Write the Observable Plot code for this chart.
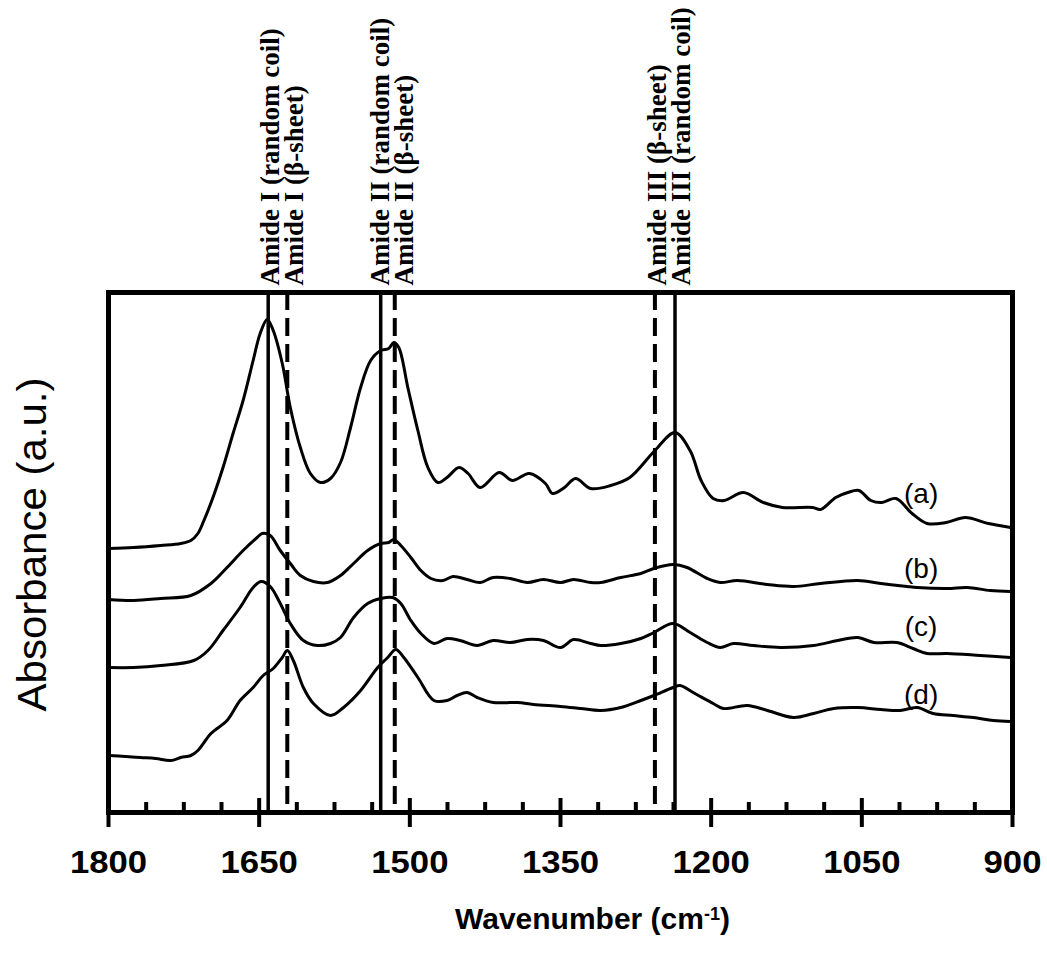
<!DOCTYPE html>
<html><head><meta charset="utf-8">
<script src="https://cdn.jsdelivr.net/npm/d3@7"></script>
<script src="https://cdn.jsdelivr.net/npm/@observablehq/plot@0.6"></script>
<style>body{margin:0;background:#fff;} #chart svg{display:block;}</style>
</head><body><div id="chart"></div>
<script>
// ---- data ----
const seriesNames = ["(a)", "(b)", "(c)", "(d)"];

const waveA = [1800,1775,1748,1728,1718,1711,1705,1696,1686,1676,1666,1656,1649,1642,1636,1627,1619,1609,1599,1589,1579,1569,1559,1549,1539,1529,1521,1516,1511,1502,1492,1482,1472,1463,1451,1442,1430,1411,1398,1381,1365,1358,1346,1335,1320,1300,1281,1256,1236,1221,1210,1198,1187,1168,1148,1129,1099,1091,1076,1064,1053,1041,1030,1016,1000,985,966,947,924,902];
const absA  = [2.64,2.65,2.67,2.69,2.72,2.79,2.92,3.15,3.45,3.79,4.12,4.52,4.79,4.93,4.82,4.49,4.05,3.65,3.39,3.30,3.34,3.50,3.85,4.25,4.52,4.62,4.64,4.70,4.65,4.25,3.82,3.45,3.30,3.35,3.45,3.39,3.25,3.40,3.32,3.39,3.29,3.19,3.25,3.34,3.24,3.27,3.35,3.62,3.80,3.62,3.32,3.14,3.12,3.20,3.10,3.05,3.05,3.03,3.15,3.20,3.22,3.12,3.10,3.14,2.99,2.89,2.90,2.95,2.89,2.85];

const waveB = [1800,1775,1748,1718,1698,1682,1666,1652,1647,1639,1629,1619,1609,1596,1582,1569,1556,1542,1529,1521,1516,1509,1499,1489,1479,1467,1457,1443,1430,1417,1400,1383,1367,1350,1337,1320,1310,1290,1270,1257,1238,1224,1204,1191,1174,1144,1118,1091,1054,1031,1005,995,965,945,922,902];
const absB  = [2.13,2.12,2.14,2.17,2.29,2.45,2.62,2.75,2.79,2.77,2.62,2.49,2.37,2.31,2.30,2.37,2.49,2.62,2.69,2.70,2.73,2.67,2.55,2.42,2.34,2.32,2.36,2.33,2.30,2.35,2.34,2.30,2.33,2.30,2.33,2.30,2.30,2.35,2.39,2.44,2.48,2.45,2.34,2.30,2.32,2.28,2.26,2.29,2.32,2.29,2.26,2.25,2.24,2.25,2.22,2.21];

const waveC = [1800,1775,1748,1715,1701,1686,1669,1656,1648,1639,1629,1619,1606,1592,1579,1569,1556,1542,1529,1517,1509,1499,1489,1476,1463,1450,1433,1417,1400,1383,1367,1350,1337,1320,1310,1290,1270,1257,1238,1221,1204,1191,1178,1158,1131,1098,1074,1054,1038,1015,999,985,965,932,902];
const absC  = [1.45,1.45,1.47,1.52,1.62,1.82,2.05,2.25,2.31,2.26,2.09,1.89,1.72,1.67,1.69,1.75,1.95,2.09,2.14,2.15,2.09,1.92,1.79,1.69,1.74,1.72,1.67,1.72,1.70,1.73,1.72,1.65,1.73,1.69,1.67,1.69,1.74,1.80,1.89,1.80,1.70,1.65,1.69,1.67,1.65,1.67,1.72,1.75,1.70,1.70,1.64,1.59,1.59,1.57,1.55];

const waveD = [1800,1783,1768,1753,1738,1728,1718,1711,1698,1682,1669,1656,1646,1636,1627,1622,1616,1606,1596,1579,1566,1549,1532,1522,1514,1506,1492,1476,1463,1453,1443,1433,1417,1393,1377,1350,1330,1310,1290,1270,1257,1238,1231,1218,1198,1188,1164,1144,1118,1098,1078,1054,1031,1012,995,979,959,939,919,902];
const absD  = [0.57,0.56,0.55,0.54,0.52,0.55,0.57,0.62,0.79,0.92,1.12,1.25,1.37,1.44,1.55,1.62,1.52,1.25,1.09,0.97,1.05,1.22,1.45,1.55,1.63,1.55,1.35,1.12,1.12,1.17,1.20,1.15,1.10,1.10,1.08,1.06,1.04,1.02,1.05,1.12,1.17,1.25,1.27,1.20,1.09,1.04,1.07,1.02,0.95,0.99,1.04,1.05,1.03,1.02,1.05,0.99,0.97,0.95,0.92,0.91];

const curveLabelWave = 991;
const curveLabelAbs = [3.18, 2.43, 1.85, 1.17];

const amideLabels = ["Amide I (random coil)", "Amide I (\u03b2-sheet)",
                     "Amide II (random coil)", "Amide II (\u03b2-sheet)",
                     "Amide III (\u03b2-sheet)", "Amide III (random coil)"];
const amideWaves  = [1641, 1622, 1529, 1515, 1256, 1236];
const amideDashed = [false, true, false, true, true, false];

const majorTicks = [1800, 1650, 1500, 1350, 1200, 1050, 900];
const xTitle = "Wavenumber (cm-1)";
const yTitle = "Absorbance (a.u.)";

// ---- build table ----
const waves = [waveA, waveB, waveC, waveD];
const abss = [absA, absB, absC, absD];
const spectra = seriesNames.flatMap((s, i) => waves[i].map((w, j) => ({series: s, wave: w, abs: abss[i][j]})));
const curveLabels = seriesNames.map((s, i) => ({text: s, wave: curveLabelWave, abs: curveLabelAbs[i]}));
const minorTicks = d3.range(900, 1800, 37.5).filter(v => !majorTicks.includes(v));
const solidLines = amideWaves.filter((w, i) => !amideDashed[i]);
const dashedLines = amideWaves.filter((w, i) => amideDashed[i]);
const pairs = d3.range(0, amideLabels.length, 2).map(i => ({
  mid: (amideWaves[i] + amideWaves[i + 1]) / 2, first: amideLabels[i], second: amideLabels[i + 1]
}));

const W = 1047, H = 961, mT = 292, mB = 149, mL = 108, mR = 35;
const plotH = H - mT - mB;
const serif = "'Liberation Serif', 'Times New Roman', serif";

const chart = Plot.plot({
  width: W, height: H,
  marginTop: mT, marginBottom: mB, marginLeft: mL, marginRight: mR,
  style: {fontFamily: "'Liberation Sans', Arial, sans-serif", background: "white", color: "black"},
  x: {domain: [1800, 900]},
  y: {domain: [0, 5.2], axis: null},
  marks: [
    Plot.ruleX(solidLines, {x: d => d, stroke: "black", strokeWidth: 3.5}),
    Plot.ruleX(dashedLines, {x: d => d, stroke: "black", strokeWidth: 4, strokeDasharray: "18,8"}),
    Plot.line(spectra, {x: "wave", y: "abs", z: "series", stroke: "black", strokeWidth: 3, curve: "catmull-rom"}),
    Plot.frame({stroke: "black", strokeWidth: 5}),
    Plot.tickX(majorTicks, {x: d => d, stroke: "black", strokeWidth: 4, insetTop: plotH - 14, insetBottom: -15}),
    Plot.tickX(minorTicks, {x: d => d, stroke: "black", strokeWidth: 4, insetTop: plotH - 10}),
    Plot.axisX(majorTicks, {tickSize: 0, tickPadding: 38, fontSize: 31, fontWeight: "bold", label: null, tickFormat: d => String(d)}),
    Plot.text(pairs, {x: "mid", text: "first", frameAnchor: "top", rotate: -90, textAnchor: "start", dy: -7, dx: -18,
      fontFamily: serif, fontWeight: "bold", fontSize: 27, fill: "black"}),
    Plot.text(pairs, {x: "mid", text: "second", frameAnchor: "top", rotate: -90, textAnchor: "start", dy: -7, dx: 6,
      fontFamily: serif, fontWeight: "bold", fontSize: 27, fill: "black"}),
    Plot.text(curveLabels, {x: "wave", y: "abs", text: "text", fontSize: 28, fill: "black"}),
    Plot.text([yTitle], {text: d => d, frameAnchor: "left", textAnchor: "middle", rotate: -90, dx: -75, dy: -8, fontSize: 40, fill: "black"}),
    Plot.text([xTitle], {text: d => d, frameAnchor: "bottom", dy: 116, dx: 32, fontSize: 30, fontWeight: "bold", fill: "black"})
  ]
});
document.getElementById("chart").appendChild(chart);

// slightly wider tick labels and a longer y title, as in the reference
function stretch(el, k) {
  const len = el.getComputedTextLength();
  if (len > 0) { el.setAttribute("textLength", (len * k).toFixed(1)); el.setAttribute("lengthAdjust", "spacingAndGlyphs"); }
}
d3.select(chart).selectAll('g[aria-label="x-axis tick label"] text').each(function() { stretch(this, 1.12); });
d3.select(chart).selectAll("text").filter(function() { return this.textContent === yTitle; }).each(function() { stretch(this, 1.05); });

// superscript for the x title
d3.select(chart).selectAll("text").filter(function() { return this.textContent === xTitle; }).each(function() {
  const t = d3.select(this);
  t.text(null);
  t.append("tspan").text("Wavenumber (cm");
  t.append("tspan").attr("dy", "-0.45em").attr("font-size", "0.6em").text("-1");
  t.append("tspan").attr("dy", "0.27em").text(")");
});
</script>
</body></html>
